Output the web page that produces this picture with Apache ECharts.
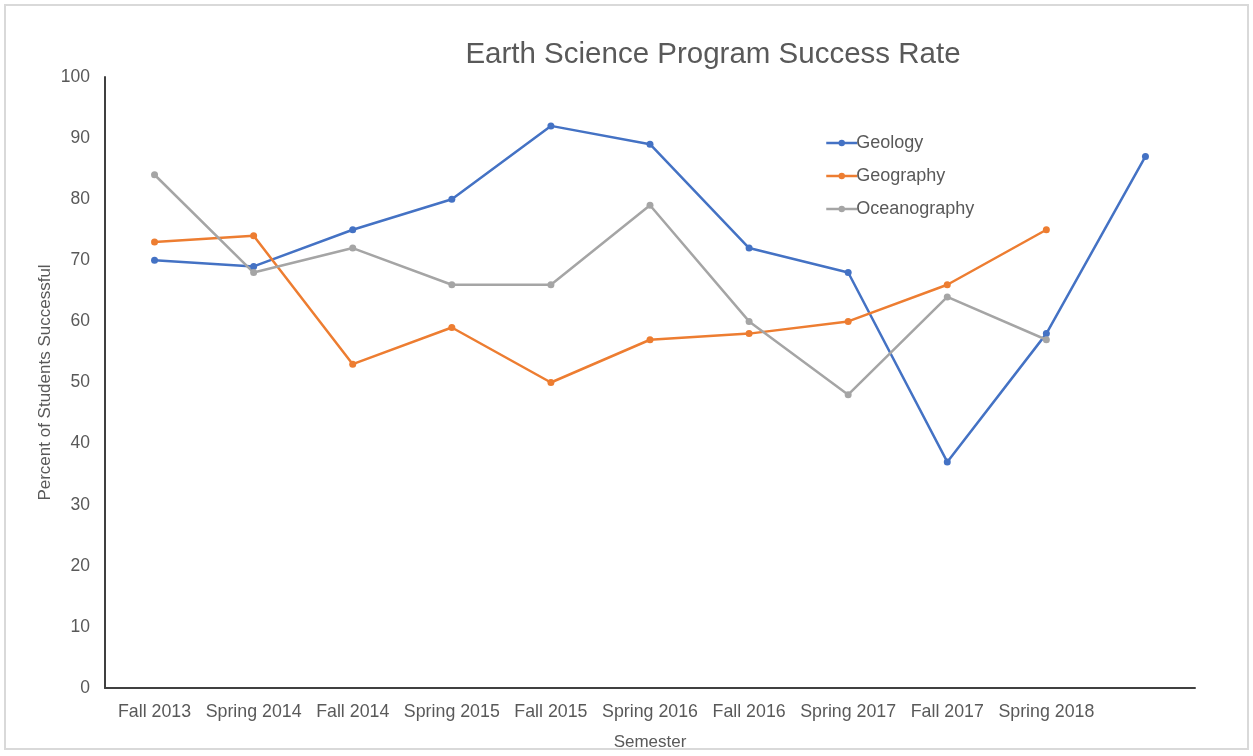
<!DOCTYPE html>
<html>
<head>
<meta charset="utf-8">
<script src="https://cdn.jsdelivr.net/npm/echarts@6/dist/echarts.min.js"></script>
<style>
html,body{margin:0;padding:0;background:#fff;}
#frame{position:absolute;left:4px;top:4px;width:1245px;height:746px;border:2px solid #d9d9d9;box-sizing:border-box;}
#chart{position:absolute;left:0;top:0;width:1253px;height:756px;}
</style>
</head>
<body>
<div id="frame"></div>
<div id="chart"></div>
<script>
const categories = ["Fall 2013","Spring 2014","Fall 2014","Spring 2015","Fall 2015","Spring 2016","Fall 2016","Spring 2017","Fall 2017","Spring 2018",""];
const geology = [70,69,75,80,92,89,72,68,37,58,87];
const geography = [73,74,53,59,50,57,58,60,66,75,null];
const oceanography = [84,68,72,66,66,79,60,48,64,57,null];
const yTicks = {min:0,max:100,interval:10};

const font = "Liberation Sans, Arial, sans-serif";
const chart = echarts.init(document.getElementById('chart'), null, {renderer:'canvas'});
function s(name, data, color){
  return {name, type:'line', data, color, symbol:'circle', symbolSize:7,
    lineStyle:{width:2.5,color}, itemStyle:{color}, connectNulls:false};
}
chart.setOption({
  animation:false,
  textStyle:{fontFamily:font},
  title:{text:'Earth Science Program Success Rate', left:708, textAlign:'center', top:35,
    textStyle:{fontSize:29.5, fontWeight:'normal', color:'#595959', fontFamily:font}},
  legend:{orient:'vertical', left:820, top:129, itemGap:15, itemWidth:31, itemHeight:8,
    lineStyle:{width:2.5},
    textStyle:{fontSize:18,color:'#595959',fontFamily:font, padding:[0,0,0,-6]},
    data:['Geology','Geography','Oceanography']},
  grid:{left:105,right:58,top:77,bottom:67,containLabel:false},
  xAxis:{type:'category',data:categories,boundaryGap:true,
    name:'Semester',nameLocation:'middle',nameGap:46,nameMoveOverlap:false,
    nameTextStyle:{fontSize:17,color:'#595959',fontFamily:font},
    axisLine:{lineStyle:{color:'#404040',width:2}},axisTick:{show:false},
    axisLabel:{fontSize:17.8,color:'#595959',margin:15,interval:0,fontFamily:font},
    splitLine:{show:false}},
  yAxis:{type:'value',min:yTicks.min,max:yTicks.max,interval:yTicks.interval,
    name:'Percent of Students Successful',nameLocation:'middle',nameGap:51,nameMoveOverlap:false,
    nameTextStyle:{fontSize:17,color:'#595959',fontFamily:font},
    axisLine:{show:true,lineStyle:{color:'#404040',width:2}},axisTick:{show:false},
    axisLabel:{fontSize:17.5,color:'#595959',margin:15,fontFamily:font},
    splitLine:{show:false}},
  series:[
    s('Geology',geology,'#4472c4'),
    s('Geography',geography,'#ed7d31'),
    s('Oceanography',oceanography,'#a5a5a5')
  ]
});
</script>
</body>
</html>
